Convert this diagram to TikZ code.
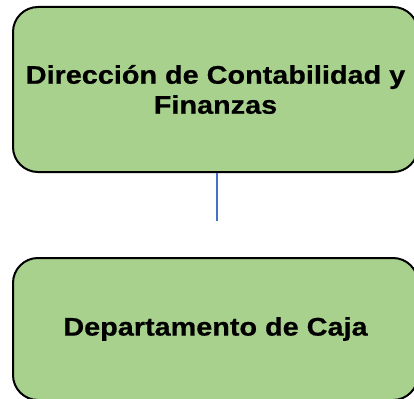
\documentclass[tikz,border=0pt]{standalone}
\usepackage{fontspec}
\setmainfont[FakeStretch=1.13, BoldFeatures={FakeBold=0.6}]{Liberation Sans}
\definecolor{boxgreen}{HTML}{A9D18E}
\definecolor{linkblue}{HTML}{4472C4}
\tikzset{
  orgbox/.style={draw=black, line width=2pt, fill=boxgreen, rounded corners=25pt,
    minimum width=405pt, align=center, inner sep=0pt,
    font=\fontsize{25.5pt}{30pt}\selectfont\bfseries},
  link/.style={draw=linkblue, line width=2.5pt}
}
\begin{document}
\begin{tikzpicture}[x=1pt,y=-1pt]
\useasboundingbox (0,0) rectangle (414,398);
\node[orgbox, minimum height=165pt] (top) at (215.5,89.5) {Dirección de Contabilidad y\\Finanzas};
\node[orgbox, minimum height=142pt] (bot) at (215.5,329) {Departamento de Caja};
\coordinate (end) at (217,221);
\draw[link] (top.south -| end) -- (end);
\end{tikzpicture}
\end{document}
